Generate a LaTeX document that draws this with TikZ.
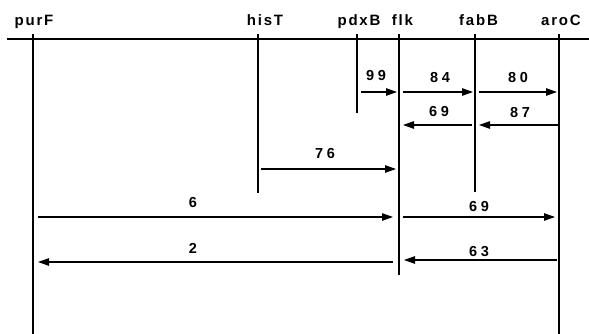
\documentclass[tikz,border=0pt]{standalone}
\usepackage{fontspec}
\setmainfont{Liberation Sans}
\newfontfamily\genefont[LetterSpace=12]{Liberation Sans Bold}
\newfontfamily\numfont[LetterSpace=25]{Liberation Sans Bold}
\usetikzlibrary{arrows.meta}
\tikzset{
  gene/.style={anchor=base, inner sep=0pt, font=\genefont\fontsize{15}{18}\selectfont},
  num/.style={anchor=base, inner sep=0pt, font=\numfont\fontsize{14.5}{17}\selectfont},
  axis/.style={line width=2pt},
  locus/.style={line width=1.8pt},
  arr/.style={line width=1.1pt, -{Triangle[length=11pt,width=7.5pt]}}
}
\begin{document}
\begin{tikzpicture}[x=1pt,y=-1pt]
\useasboundingbox (0,0) rectangle (589,334);
% top axis
\coordinate (axL) at (7,39);
\coordinate (axR) at (589,39);
\draw[axis] (axL) -- (axR);
% gene labels
\node[gene] (purF) at (34,25.7) {purF};
\node[gene] (hisT) at (265,25.7) {hisT};
\node[gene] (pdxB) at (359,25.7) {pdxB};
\node[gene] (flk)  at (402.5,25.7) {flk};
\node[gene] (fabB) at (478.5,25.7) {fabB};
\node[gene] (aroC) at (561,25.7) {aroC};
% loci lines
\coordinate (purFt) at (33,34);  \coordinate (purFb) at (33,334);
\coordinate (hisTt) at (258,34); \coordinate (hisTb) at (258,193);
\coordinate (pdxBt) at (357,34); \coordinate (pdxBb) at (357,113);
\coordinate (flkt)  at (399,34); \coordinate (flkb)  at (399,275);
\coordinate (fabBt) at (475,34); \coordinate (fabBb) at (475,192);
\coordinate (aroCt) at (559,34); \coordinate (aroCb) at (559,334);
\draw[locus] (purFt) -- (purFb);
\draw[locus] (hisTt) -- (hisTb);
\draw[locus] (pdxBt) -- (pdxBb);
\draw[locus] (flkt) -- (flkb);
\draw[locus] (fabBt) -- (fabBb);
\draw[locus] (aroCt) -- (aroCb);
% arrow endpoints
\coordinate (a1s) at (361,92);  \coordinate (a1e) at (397,92);
\coordinate (a2s) at (403,92);  \coordinate (a2e) at (473,92);
\coordinate (a3s) at (479,92);  \coordinate (a3e) at (557,92);
\coordinate (a4s) at (472,125); \coordinate (a4e) at (403,125);
\coordinate (a5s) at (558,125); \coordinate (a5e) at (479,125);
\coordinate (a6s) at (261,169); \coordinate (a6e) at (396,169);
\coordinate (a7s) at (38,217);  \coordinate (a7e) at (393,217);
\coordinate (a8s) at (403,217); \coordinate (a8e) at (555,217);
\coordinate (a9s) at (393,262); \coordinate (a9e) at (38,262);
\coordinate (a10s) at (557,260); \coordinate (a10e) at (404,260);
\draw[arr] (a1s) -- (a1e);
\draw[arr] (a2s) -- (a2e);
\draw[arr] (a3s) -- (a3e);
\draw[arr] (a4s) -- (a4e);
\draw[arr] (a5s) -- (a5e);
\draw[arr] (a6s) -- (a6e);
\draw[arr] (a7s) -- (a7e);
\draw[arr] (a8s) -- (a8e);
\draw[arr] (a9s) -- (a9e);
\draw[arr] (a10s) -- (a10e);
% numbers
\node[num] (n1) at (376,81) {99};
\node[num] (n2) at (440,83) {84};
\node[num] (n3) at (518,83) {80};
\node[num] (n4) at (439,117) {69};
\node[num] (n5) at (520,118) {87};
\node[num] (n6) at (325,159) {76};
\node[num] (n7) at (193,207) {6};
\node[num] (n8) at (479,211) {69};
\node[num] (n9) at (193,253) {2};
\node[num] (n10) at (479,256) {63};
\end{tikzpicture}
\end{document}
